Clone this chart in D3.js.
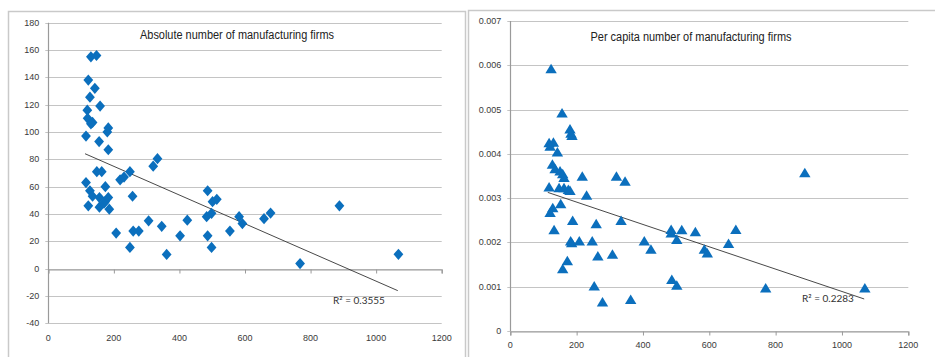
<!DOCTYPE html>
<html><head><meta charset="utf-8">
<script src="https://cdn.jsdelivr.net/npm/d3@7"></script>
<style>
html,body{margin:0;padding:0;background:#fff;}
svg{display:block;}
</style></head>
<body>
<svg id="c" width="935" height="357"></svg>
<script>
// ---- data ----
const leftTitle = "Absolute number of manufacturing firms";
const rightTitle = "Per capita number of manufacturing firms";
const leftR2 = "R\u00B2 = 0.3555";
const rightR2 = "R\u00B2 = 0.2283";

const leftX = [130,147,122,142,127,158,119,120,135,130,115,183,180,155,183,148,163,115,174,127,135,122,156,156,173,170,183,186,219,231,249,257,207,249,259,276,320,333,306,346,361,402,424,486,483,486,498,498,501,514,554,582,592,658,678,768,888,1068];
const leftY = [155,156,138,132,125.5,119,116,110,107,106,97,103,100,93,87,71,71,63,60,57,53,46,52,45,49,48,52,43.5,65,67,71,53,26,15.5,27.5,27.5,75,80.5,35,31,10.4,24,35.5,57,38,24,15.5,40.5,49,50.7,27.5,38,33,36.6,40.7,3.7,46,10.5];

const rightX = [123,156,180,183,186,117,130,120,142,127,135,150,158,162,217,320,346,888,117,147,162,175,180,230,128,120,152,188,259,334,132,182,185,208,247,264,308,172,158,253,278,363,404,424,485,485,502,517,558,487,502,585,594,658,680,770,1069];
const rightY = [0.00591,0.00491,0.00455,0.00445,0.0044,0.00424,0.00425,0.00416,0.00403,0.00375,0.00365,0.0036,0.00354,0.00345,0.00348,0.00348,0.00337,0.00356,0.00324,0.00322,0.00322,0.00318,0.00316,0.00305,0.00277,0.00266,0.00286,0.00248,0.00241,0.00248,0.00227,0.00202,0.00198,0.00202,0.00202,0.00168,0.00172,0.00157,0.00139,0.001,0.00064,0.0007,0.00202,0.00183,0.00228,0.0022,0.00205,0.00227,0.00223,0.00115,0.00102,0.00183,0.00175,0.00196,0.00228,0.00096,0.00096];

// trendline endpoints
const leftTrendX = [112,1066];
const leftTrendY = [84.1,-16.1];
const rightTrendX = [113,1067];
const rightTrendY = [0.00313,0.000723];

const xTicks = [0,200,400,600,800,1000,1200];
const leftYTicks = [-40,-20,0,20,40,60,80,100,120,140,160,180];
const rightYTicks = [0,0.001,0.002,0.003,0.004,0.005,0.006,0.007];

// ---- drawing ----
const svg = d3.select("#c");
const BLUE = "#0b6fbd";
const GRID = "#c4c4c4";
const AXIS = "#9a9a9a";
const TXT = "#3a3a3a";
const tickFont = "'Liberation Sans', Arial, sans-serif";
const titleFont = "'Liberation Sans', Arial, sans-serif";

// panel borders
svg.append("rect").attr("x",8.5).attr("y",11.5).attr("width",457).attr("height",360)
  .attr("fill","none").attr("stroke","#c9c9c9").attr("stroke-width",1.5);
svg.append("rect").attr("x",468.5).attr("y",10.5).attr("width",480).attr("height",360)
  .attr("fill","none").attr("stroke","#c9c9c9").attr("stroke-width",1.5);

function panel(cfg){
  const g = svg.append("g");
  const x = d3.scaleLinear().domain([0,1200]).range(cfg.xr);
  const y = d3.scaleLinear().domain(cfg.yd).range(cfg.yr);
  // gridlines
  g.selectAll("line.grid").data(cfg.yTicks).enter().append("line")
    .attr("x1",cfg.xr[0]-3).attr("x2",cfg.xr[1])
    .attr("y1",d=>Math.round(y(d))+0.5).attr("y2",d=>Math.round(y(d))+0.5)
    .attr("stroke",GRID).attr("stroke-width",1.2);
  // y axis line
  g.append("line").attr("x1",Math.round(cfg.xr[0])+0.5).attr("x2",Math.round(cfg.xr[0])+0.5)
    .attr("y1",cfg.yr[1]).attr("y2",cfg.yr[0]).attr("stroke",AXIS).attr("stroke-width",1.2);
  // x axis at baseline
  const by = Math.round(y(cfg.xAxisAt))+0.5;
  const xa = d3.axisBottom(x).tickValues(xTicks).tickSize(4).tickFormat(d=>"");
  const xg = g.append("g").attr("transform",`translate(0,${by})`).call(xa);
  xg.select(".domain").attr("stroke",AXIS).attr("stroke-width",1.2);
  xg.selectAll(".tick line").attr("stroke",AXIS);
  // x tick labels
  g.selectAll("text.xl").data(xTicks).enter().append("text")
    .attr("x",d=>x(d)).attr("y",cfg.xLabelY).attr("text-anchor","middle")
    .attr("font-family",tickFont).attr("font-size",9).attr("fill",TXT).text(d=>d);
  // y tick labels
  g.selectAll("text.yl").data(cfg.yTicks).enter().append("text")
    .attr("x",cfg.xr[0]-9).attr("y",d=>y(d)+3).attr("text-anchor","end")
    .attr("font-family",tickFont).attr("font-size",9).attr("fill",TXT).text(cfg.fmt);
  // title (condensed to match narrow face)
  g.append("text").attr("x",cfg.titleX).attr("y",cfg.titleY).attr("text-anchor","middle")
    .attr("font-family",titleFont).attr("font-size",12.5).attr("fill","#222")
    .attr("textLength",cfg.titleLen).attr("lengthAdjust","spacingAndGlyphs").text(cfg.title);
  // trendline
  g.append("line").attr("x1",x(cfg.tx[0])).attr("y1",y(cfg.ty[0]))
    .attr("x2",x(cfg.tx[1])).attr("y2",y(cfg.ty[1]))
    .attr("stroke","#333").attr("stroke-width",0.9);
  // points
  g.selectAll("path.pt").data(cfg.xs.map((v,i)=>[v,cfg.ys[i]])).enter().append("path")
    .attr("d",cfg.shape).attr("fill",BLUE)
    .attr("transform",d=>`translate(${x(d[0])},${y(d[1])})`);
  // R2 label
  g.append("text").attr("x",cfg.r2x).attr("y",cfg.r2y)
    .attr("font-family","Lato, 'Open Sans', sans-serif").attr("font-size",10).attr("fill","#333").text(cfg.r2);
}

const diamond = "M0,-5.6L4.9,0L0,5.6L-4.9,0Z";
const triangle = "M0,-5.6L5.7,3.9L-5.7,3.9Z";

panel({xr:[48.3,441.7], yd:[-40,180], yr:[323.3,22.7], yTicks:leftYTicks, xAxisAt:0,
  xLabelY:341, fmt:d=>d, title:leftTitle, titleX:237, titleY:39, titleLen:194,
  tx:leftTrendX, ty:leftTrendY, xs:leftX, ys:leftY, shape:diamond,
  r2:leftR2, r2x:333, r2y:304});

panel({xr:[510.3,908.3], yd:[0,0.007], yr:[331,21], yTicks:rightYTicks, xAxisAt:0,
  xLabelY:348, fmt:d=>d===0?"0":d3.format(".3f")(d), title:rightTitle, titleX:691, titleY:41, titleLen:201,
  tx:rightTrendX, ty:rightTrendY, xs:rightX, ys:rightY, shape:triangle,
  r2:rightR2, r2x:802, r2y:302});
</script>
</body></html>
